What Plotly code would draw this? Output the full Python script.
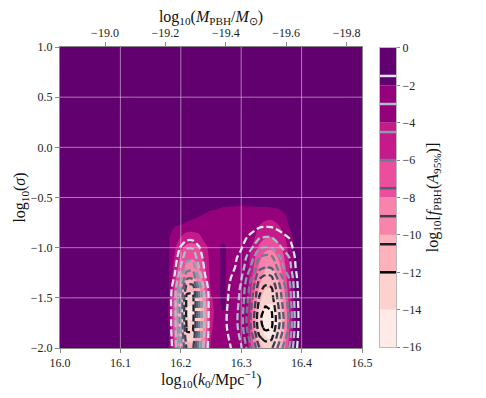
import plotly.graph_objects as go

# resolved part of the scan (outside it the map sits at its background value)
log_k0 = [16.17, 16.18, 16.19, 16.20, 16.21, 16.22, 16.23, 16.24, 16.25, 16.26, 16.27, 16.28,
          16.29, 16.30, 16.31, 16.32, 16.33, 16.34, 16.35, 16.36, 16.37, 16.38, 16.39, 16.40]
log_sigma = [-2.0, -1.9, -1.8, -1.7, -1.6, -1.5, -1.4, -1.3, -1.2, -1.1, -1.0, -0.9, -0.8, -0.7, -0.6, -0.5]

# filled map: log10 f_PBH
f_pbh = [
    [-1, -1.8, -6.3, -9.5, -11.2, -11.5, -10.4, -7.8, -3.7, -3.2, -3.2, -3.2, -3.2, -3.2, -3.2, -7.6, -10.9, -12.6, -12.9, -11.8, -9.1, -5.0, -1, -1],
    [-1, -1.8, -6.9, -10.3, -12.2, -12.5, -11.3, -8.4, -4.0, -3.2, -3.2, -3.2, -3.2, -3.2, -3.2, -8.4, -12.0, -13.9, -14.2, -12.9, -10.0, -5.5, -1, -1],
    [-1, -2.0, -7.4, -11.1, -13.2, -13.5, -12.2, -9.1, -4.3, -3.2, -3.2, -3.2, -3.2, -3.2, -3.4, -9.0, -12.8, -14.9, -15.2, -13.8, -10.7, -5.9, -1, -1],
    [-1, -2.1, -7.8, -11.7, -13.9, -14.2, -12.8, -9.6, -4.6, -3.2, -3.2, -3.2, -3.2, -3.2, -3.5, -9.0, -12.9, -15.0, -15.3, -13.9, -10.8, -5.9, -1, -1],
    [-1, -2.1, -7.8, -11.8, -14.0, -14.3, -12.9, -9.6, -4.6, -3.2, -1.5, -3.2, -3.2, -3.2, -3.3, -8.6, -12.2, -14.2, -14.5, -13.2, -10.2, -5.6, -1, -1],
    [-1, -1.9, -7.1, -10.7, -12.6, -12.9, -11.6, -8.7, -4.2, -3.2, -1, -3.2, -3.2, -3.2, -3.2, -7.9, -11.2, -13.0, -13.3, -12.1, -9.4, -5.1, -1, -1],
    [-1, -1.8, -6.2, -9.3, -11.1, -11.3, -10.2, -7.6, -3.6, -3.2, -1, -3.2, -3.2, -3.2, -3.2, -7.1, -10.1, -11.8, -12.0, -10.9, -8.5, -4.6, -1, -1],
    [-1, -1.8, -5.5, -8.3, -9.8, -10.0, -9.0, -6.8, -3.2, -3.2, -1, -3.2, -3.2, -3.2, -3.2, -6.5, -9.3, -10.8, -11.0, -10.0, -7.8, -4.3, -1, -1],
    [-1, -1.8, -4.8, -7.3, -8.6, -8.9, -8.0, -6.0, -3.2, -3.2, -1, -3.2, -3.2, -3.2, -3.2, -5.9, -8.4, -9.8, -10.1, -9.1, -7.1, -3.9, -1, -1],
    [-1, -1.8, -4.2, -6.4, -7.6, -7.8, -7.0, -5.2, -3.2, -3.2, -1, -3.2, -3.2, -3.2, -3.2, -5.3, -7.5, -8.8, -9.0, -8.1, -6.3, -3.5, -1, -1],
    [-1, -1.8, -3.7, -5.6, -6.6, -6.8, -6.1, -4.6, -3.2, -3.2, -1, -3.2, -3.2, -3.2, -3.2, -4.5, -6.4, -7.5, -7.7, -7.0, -5.4, -3.2, -1, -1],
    [-1, -1.8, -3.2, -4.1, -4.9, -5.0, -4.5, -3.4, -3.2, -3.2, -3.2, -3.2, -3.2, -3.2, -3.2, -3.6, -5.1, -5.9, -6.1, -5.5, -4.3, -3.2, -1, -1],
    [-1, -1, -2.1, -2.4, -3.2, -3.2, -3.2, -3.2, -3.2, -3.2, -3.2, -3.2, -3.2, -3.2, -3.2, -3.2, -4.2, -4.9, -5.0, -4.5, -3.5, -1.9, -1, -1],
    [-1, -1, -1, -1, -1.2, -1.7, -2.1, -2.7, -3.2, -3.2, -3.2, -3.2, -3.2, -3.2, -3.2, -3.2, -3.2, -3.6, -3.7, -3.3, -2.6, -1.4, -1, -1],
    [-1, -1, -1, -1, -1, -1, -1, -1, -1.5, -1.7, -2.05, -2.1, -2.1, -2.2, -2.1, -2.1, -2.05, -2.05, -2.0, -1.8, -1.4, -1, -1, -1],
    [-1, -1, -1, -1, -1, -1, -1, -1, -1, -1, -1, -1, -1, -1, -1, -1, -1, -1, -1, -1, -1, -1, -1, -1],
]

# dashed contours (second estimate)
f_pbh_lines = [
    [0, -0.69, -2.16, -5.39, -9.31, -9.31, -5.39, -2.16, -0.69, -0.10, -0.86, -1.33, -1.90, -2.85, -4.75, -6.46, -8.84, -9.50, -9.31, -7.41, -5.70, -4.37, -1.90, -0.29],
    [0, -0.74, -2.33, -5.83, -10.07, -10.07, -5.83, -2.33, -0.74, -0.11, -0.99, -1.54, -2.20, -3.30, -5.50, -7.48, -10.23, -11.0, -10.78, -8.58, -6.60, -5.06, -2.20, -0.33],
    [0, -0.79, -2.49, -6.22, -10.74, -10.74, -6.22, -2.49, -0.79, -0.11, -1.11, -1.72, -2.46, -3.69, -6.15, -8.36, -11.44, -12.3, -12.05, -9.59, -7.38, -5.66, -2.46, -0.37],
    [0, -0.81, -2.55, -6.38, -11.02, -11.02, -6.38, -2.55, -0.81, -0.12, -1.13, -1.76, -2.52, -3.78, -6.30, -8.57, -11.72, -12.6, -12.35, -9.83, -7.56, -5.80, -2.52, -0.38],
    [0, -0.81, -2.55, -6.38, -11.02, -11.02, -6.38, -2.55, -0.81, -0.12, -1.09, -1.69, -2.42, -3.63, -6.05, -8.23, -11.25, -12.1, -11.86, -9.44, -7.26, -5.57, -2.42, -0.36],
    [0, -0.81, -2.53, -6.33, -10.93, -10.93, -6.33, -2.53, -0.81, -0.12, -1.03, -1.60, -2.28, -3.42, -5.70, -7.75, -10.60, -11.4, -11.17, -8.89, -6.84, -5.24, -2.28, -0.34],
    [0, -0.72, -2.27, -5.67, -9.79, -9.79, -5.67, -2.27, -0.72, -0.10, -0.97, -1.51, -2.16, -3.24, -5.40, -7.34, -10.04, -10.8, -10.58, -8.42, -6.48, -4.97, -2.16, -0.32],
    [0, -0.53, -1.65, -4.13, -7.13, -7.13, -4.13, -1.65, -0.53, -0.08, -0.86, -1.33, -1.90, -2.85, -4.75, -6.46, -8.84, -9.50, -9.31, -7.41, -5.70, -4.37, -1.90, -0.29],
    [0, -0.39, -1.23, -3.08, -5.32, -5.32, -3.08, -1.23, -0.39, -0.06, -0.68, -1.06, -1.52, -2.28, -3.80, -5.17, -7.07, -7.60, -7.45, -5.93, -4.56, -3.50, -1.52, -0.23],
    [0, -0.29, -0.92, -2.31, -3.99, -3.99, -2.31, -0.92, -0.29, -0.04, -0.59, -0.91, -1.30, -1.95, -3.25, -4.42, -6.05, -6.50, -6.37, -5.07, -3.90, -2.99, -1.30, -0.20],
    [0, -0.21, -0.66, -1.65, -2.85, -2.85, -1.65, -0.66, -0.21, -0.03, -0.41, -0.64, -0.92, -1.38, -2.30, -3.13, -4.28, -4.60, -4.51, -3.59, -2.76, -2.12, -0.92, -0.14],
    [0, -0.07, -0.22, -0.55, -0.95, -0.95, -0.55, -0.22, -0.07, -0.01, -0.28, -0.43, -0.62, -0.93, -1.55, -2.11, -2.88, -3.10, -3.04, -2.42, -1.86, -1.43, -0.62, -0.09],
    [0, 0, 0, 0, 0, 0, 0, 0, 0, 0, -0.14, -0.22, -0.32, -0.48, -0.80, -1.09, -1.49, -1.60, -1.57, -1.25, -0.96, -0.74, -0.32, -0.05],
    [0, 0, 0, 0, 0, 0, 0, 0, 0, 0, 0, 0, 0, 0, 0, 0, -0.28, -0.30, -0.29, -0.23, 0, 0, 0, 0],
    [0] * 24,
    [0] * 24,
]

fill_levels = [-16, -14, -12, -10, -8, -6, -4, -2, 0]
fill_colors = ['#feebe8', '#fcd2ce', '#fbb2ba', '#f883ab', '#ea4e9c', '#c51b8a', '#94017a', '#62006f']
line_levels = [-12, -10.5, -9, -7.5, -6, -4.5, -3, -1.5]
line_colors = ['#000000', '#1c1c26', '#3a3f57', '#555d75', '#6e7b8f', '#8a9bab', '#a9bec6', '#d8e8ec']

mass_ticks = [-19.0, -19.2, -19.4, -19.6, -19.8]

# pad the resolved block out to the full plotted range
x_full = [16.0] + log_k0 + [16.5]
y_full = log_sigma + [1.0]
z_fill = [[-1] + row + [-1] for row in f_pbh] + [[-1] * len(x_full)]
z_line = [[0] + row + [0] for row in f_pbh_lines] + [[0] * len(x_full)]

# step colorscale, plotly maps fill bands over start - size/2 ... end + size/2
step = fill_levels[1] - fill_levels[0]
lo_v = fill_levels[0] - step / 2
span = fill_levels[-1] + step / 2 - lo_v
fill_scale = []
for i, c in enumerate(fill_colors):
    a = 0 if i == 0 else (fill_levels[i] - lo_v) / span
    b = 1 if i == len(fill_colors) - 1 else (fill_levels[i + 1] - lo_v) / span
    fill_scale += [[a, c], [b, c]]

font = 'Liberation Serif'
fig = go.Figure()
fig.add_trace(go.Contour(
    x=x_full, y=y_full, z=z_fill, colorscale=fill_scale, showscale=False,
    contours=dict(start=fill_levels[0], end=fill_levels[-1], size=step, coloring='fill'),
    line=dict(width=0, smoothing=1), hoverinfo='skip'))
# one trace per dashed level so each gets its own colour
for lev, c in zip(line_levels, line_colors):
    fig.add_trace(go.Contour(
        x=x_full, y=y_full, z=z_line, showscale=False,
        contours=dict(start=lev, end=lev, size=1, coloring='none'),
        line=dict(width=2.3, color=c, dash='7px,3px', smoothing=1), hoverinfo='skip'))

# keeps the top (mass) axis alive
fig.add_trace(go.Scatter(x=mass_ticks, y=[None] * len(mass_ticks), xaxis='x2', yaxis='y',
                         mode='markers', hoverinfo='skip'))

# colorbar drawn by hand so the contour levels can be marked on it
fig.add_trace(go.Bar(
    x=[0] * len(fill_colors), y=[step] * len(fill_colors), base=fill_levels[:-1],
    marker=dict(color=fill_colors, line=dict(width=0)), width=1,
    xaxis='x3', yaxis='y3', hoverinfo='skip'))
for lev, c in zip(line_levels, line_colors):
    fig.add_trace(go.Scatter(x=[-0.5, 0.5], y=[lev, lev], mode='lines',
                             line=dict(color=c, width=2.5), xaxis='x3', yaxis='y3', hoverinfo='skip'))

# grid over the map
for t in [16.1, 16.2, 16.3, 16.4]:
    fig.add_shape(type='line', xref='x', yref='y domain', x0=t, x1=t, y0=0, y1=1,
                  line=dict(color='rgba(225,225,225,0.55)', width=1), layer='above')
for t in [-1.5, -1.0, -0.5, 0.0, 0.5]:
    fig.add_shape(type='line', xref='x domain', yref='y', x0=0, x1=1, y0=t, y1=t,
                  line=dict(color='rgba(225,225,225,0.55)', width=1), layer='above')

ax = dict(showline=True, linecolor='#888888', linewidth=1, ticks='outside', ticklen=4,
          tickcolor='#888888', showgrid=False, zeroline=False, automargin=False,
          tickfont=dict(family=font, size=12, color='#222222'))

# bottom axis title placed by hand (the superscript pushes the auto title too low)
fig.add_annotation(text='log<sub>10</sub>(<i>k</i><sub>0</sub>/Mpc<sup>−1</sup>)',
                   xref='x domain', yref='paper', x=0.5, y=-0.104, yanchor='middle',
                   showarrow=False, font=dict(family=font, size=16, color='#111111'))

# the page body adds an 8px offset, so the figure is 8px smaller each way
fig.update_layout(
    width=478, height=390, showlegend=False, barmode='overlay',
    margin=dict(l=52, r=90, t=39, b=50),
    paper_bgcolor='white', plot_bgcolor='white',
    font=dict(family=font, color='#111111'),
    xaxis=dict(ax, domain=[0, 302 / 336], range=[16.0, 16.5], tickvals=[16.0, 16.1, 16.2, 16.3, 16.4, 16.5],
               tickformat='.1f', mirror=False),
    yaxis=dict(ax, range=[-2.0, 1.0], tickvals=[-2.0, -1.5, -1.0, -0.5, 0.0, 0.5, 1.0], tickformat='.1f',
               mirror=True,
               title=dict(text='log<sub>10</sub>(<i>σ</i>)', font=dict(family=font, size=16), standoff=0)),
    xaxis2=dict(ax, overlaying='x', side='top', anchor='y', range=[-18.851, -19.851],
                tickvals=mass_ticks, ticktext=[f'−{abs(m):.1f}' for m in mass_ticks],
                title=dict(text='log<sub>10</sub>(<i>M</i><sub>PBH</sub>/<i>M</i><sub>⊙</sub>)',
                           font=dict(family=font, size=16), standoff=3)),
    xaxis3=dict(domain=[320 / 336, 1.0], range=[-0.5, 0.5], anchor='y3', showticklabels=False,
                showgrid=False, zeroline=False, showline=True, mirror=True, linecolor='#bbbbbb',
                ticks='', automargin=False),
    yaxis3=dict(domain=[0.003, 0.997], range=[-16, 0], anchor='x3', side='right', showline=True, mirror=True,
                linecolor='#bbbbbb', ticks='outside', ticklen=3, tickcolor='#888888', showgrid=False,
                zeroline=False, tickvals=fill_levels, automargin=False,
                tickfont=dict(family=font, size=12, color='#222222'),
                title=dict(text='log<sub>10</sub>[<i>f</i><sub>PBH</sub>(<i>A</i><sub>95%</sub>)]',
                           font=dict(family=font, size=16), standoff=6)),
)

fig.write_html('out.html')
